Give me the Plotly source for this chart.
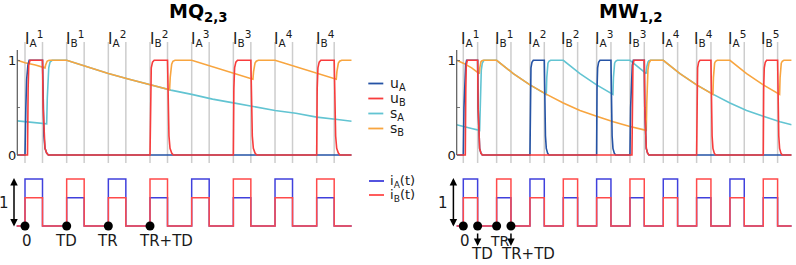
import plotly.graph_objects as go

W, H = 796, 265
FONT = "DejaVu Sans"

# ---------------- data ----------------
# MQ(2,3) panel (time unit = pulse spacing)
MQ_PULSE_START = [0, 1, 2, 3, 4, 5, 6, 7]
MQ_PULSE_WIDTH = 0.42
MQ_TOP_LABELS = ["I<sub>A</sub><sup>1</sup>", "I<sub>B</sub><sup>1</sup>", "I<sub>A</sub><sup>2</sup>",
                 "I<sub>B</sub><sup>2</sup>", "I<sub>A</sub><sup>3</sup>", "I<sub>B</sub><sup>3</sup>",
                 "I<sub>A</sub><sup>4</sup>", "I<sub>B</sub><sup>4</sup>"]
MQ_IA_LEVEL = [1, 0.6, 1, 0.6, 1, 0.6, 1, 0.6]
MQ_IB_LEVEL = [0.6, 1, 0.6, 1, 0.6, 1, 0.6, 1]
MQ_MARK_T = [0, 1, 2, 3]
MQ_MARK_LABELS = ["0", "TD", "TR", "TR+TD"]

MQ_uA_t = [-0.185, 0.0, 0.02, 0.04, 0.07, 0.1, 0.42, 0.435, 0.455, 0.48, 0.52, 0.56, 7.84]
MQ_uA_v = [0, 0, 0.5, 0.8, 0.95, 1, 1, 0.5, 0.2, 0.07, 0.02, 0, 0]

MQ_uB_t = [-0.185, 0.06, 0.075, 0.09, 0.12, 0.42, 0.435, 0.455, 0.48, 0.52, 0.56,
           3.0, 3.012, 3.03, 3.06, 3.1, 3.42, 3.435, 3.455, 3.48, 3.52, 3.56,
           5.0, 5.012, 5.03, 5.06, 5.1, 5.42, 5.435, 5.455, 5.48, 5.52, 5.56,
           7.0, 7.012, 7.03, 7.06, 7.1, 7.42, 7.435, 7.455, 7.48, 7.52, 7.56, 7.84]
MQ_uB_v = [0, 0, 0.7, 0.95, 1, 1, 0.5, 0.2, 0.07, 0.02, 0,
           0, 0.7, 0.92, 0.98, 1, 1, 0.5, 0.2, 0.07, 0.02, 0,
           0, 0.7, 0.92, 0.98, 1, 1, 0.5, 0.2, 0.07, 0.02, 0,
           0, 0.7, 0.92, 0.98, 1, 1, 0.5, 0.2, 0.07, 0.02, 0, 0]

MQ_sA_t = [-0.185, 0.52, 0.535, 0.55, 0.57, 0.6, 0.65, 1.0, 1.5, 2.0, 2.5, 3.0, 3.5,
           4.0, 4.5, 5.0, 5.5, 6.0, 6.5, 7.0, 7.5, 7.84]
MQ_sA_v = [0.36, 0.33, 0.6, 0.8, 0.92, 0.98, 1.0, 1.0, 0.93, 0.86, 0.80, 0.74, 0.685,
           0.64, 0.59, 0.55, 0.51, 0.47, 0.44, 0.40, 0.375, 0.356]

MQ_sB_t = [-0.185, 0.0, 0.25, 0.48, 0.495, 0.51, 0.53, 0.56, 0.6,
           1.0, 1.5, 2.0, 2.5, 3.0, 3.47, 3.485, 3.5, 3.52, 3.55, 3.6,
           4.0, 4.5, 5.0, 5.47, 5.485, 5.5, 5.52, 5.55, 5.6,
           6.0, 6.5, 7.0, 7.47, 7.485, 7.5, 7.52, 7.55, 7.6, 7.84]
MQ_sB_v = [1.0, 0.975, 0.95, 0.92, 0.95, 0.975, 0.99, 0.997, 1.0,
           1.0, 0.93, 0.86, 0.80, 0.74, 0.69, 0.82, 0.91, 0.96, 0.99, 1.0,
           1.0, 0.93, 0.86, 0.80, 0.88, 0.94, 0.97, 0.99, 1.0,
           1.0, 0.93, 0.86, 0.80, 0.88, 0.94, 0.97, 0.99, 1.0, 1.0]

# MW(1,2) panel
MW_PULSE_START = [0, 1, 2, 3, 4, 5, 6, 7, 8, 9]
MW_PULSE_WIDTH = 0.43
MW_TOP_LABELS = ["I<sub>A</sub><sup>1</sup>", "I<sub>B</sub><sup>1</sup>", "I<sub>A</sub><sup>2</sup>",
                 "I<sub>B</sub><sup>2</sup>", "I<sub>A</sub><sup>3</sup>", "I<sub>B</sub><sup>3</sup>",
                 "I<sub>A</sub><sup>4</sup>", "I<sub>B</sub><sup>4</sup>", "I<sub>A</sub><sup>5</sup>",
                 "I<sub>B</sub><sup>5</sup>"]
MW_IA_LEVEL = [1, 0.6, 1, 0.6, 1, 0.6, 1, 0.6, 1, 0.6]
MW_IB_LEVEL = [0.6, 1, 0.6, 1, 0.6, 1, 0.6, 1, 0.6, 1]
MW_MARK_T = [0, 0.43, 1, 1.43]
MW_MARK_LABELS = ["0", "TD", "TR", "TR+TD"]

MW_uA_t = [-0.2, 0.0, 0.02, 0.04, 0.07, 0.1, 0.43, 0.445, 0.465, 0.49, 0.53, 0.57,
           2.0, 2.012, 2.03, 2.06, 2.1, 2.43, 2.445, 2.465, 2.49, 2.53, 2.57,
           4.0, 4.012, 4.03, 4.06, 4.1, 4.43, 4.445, 4.465, 4.49, 4.53, 4.57,
           5.0, 5.02, 5.04, 5.07, 5.1, 5.43, 5.445, 5.465, 5.49, 5.53, 5.57, 9.85]
MW_uA_v = [0, 0, 0.5, 0.8, 0.95, 1, 1, 0.5, 0.2, 0.07, 0.02, 0,
           0, 0.7, 0.92, 0.98, 1, 1, 0.5, 0.2, 0.07, 0.02, 0,
           0, 0.7, 0.92, 0.98, 1, 1, 0.5, 0.2, 0.07, 0.02, 0,
           0, 0.5, 0.8, 0.95, 1, 1, 0.5, 0.2, 0.07, 0.02, 0, 0]

MW_uB_t = [-0.2, 0.06, 0.075, 0.09, 0.12, 0.43, 0.445, 0.465, 0.49, 0.53, 0.57,
           5.06, 5.075, 5.09, 5.12, 5.43, 5.445, 5.465, 5.49, 5.53, 5.57,
           7.0, 7.012, 7.03, 7.06, 7.1, 7.43, 7.445, 7.465, 7.49, 7.53, 7.57,
           9.0, 9.012, 9.03, 9.06, 9.1, 9.43, 9.445, 9.465, 9.49, 9.53, 9.57, 9.85]
MW_uB_v = [0, 0, 0.7, 0.95, 1, 1, 0.5, 0.2, 0.07, 0.02, 0,
           0, 0.7, 0.95, 1, 1, 0.5, 0.2, 0.07, 0.02, 0,
           0, 0.7, 0.92, 0.98, 1, 1, 0.5, 0.2, 0.07, 0.02, 0,
           0, 0.7, 0.92, 0.98, 1, 1, 0.5, 0.2, 0.07, 0.02, 0, 0]

MW_sA_t = [-0.2, 0.0, 0.25, 0.49, 0.505, 0.52, 0.54, 0.57, 0.62,
           1.0, 1.5, 2.0, 2.49, 2.505, 2.52, 2.54, 2.57, 2.62,
           3.0, 3.5, 4.0, 4.49, 4.505, 4.52, 4.54, 4.57, 4.62,
           5.0, 5.49, 5.505, 5.52, 5.54, 5.57, 5.62,
           6.0, 6.5, 7.0, 7.5, 8.0, 8.5, 9.0, 9.5, 9.85]
MW_sA_v = [0.32, 0.30, 0.28, 0.26, 0.55, 0.78, 0.90, 0.97, 1.0,
           1.0, 0.86, 0.74, 0.64, 0.82, 0.92, 0.97, 0.99, 1.0,
           1.0, 0.86, 0.74, 0.64, 0.82, 0.92, 0.97, 0.99, 1.0,
           1.0, 0.86, 0.93, 0.96, 0.98, 0.995, 1.0,
           1.0, 0.86, 0.74, 0.64, 0.55, 0.47, 0.41, 0.35, 0.32]

MW_sB_t = [-0.2, 0.0, 0.25, 0.48, 0.495, 0.51, 0.53, 0.56, 0.6,
           1.0, 1.5, 2.0, 2.5, 3.0, 3.5, 4.0, 4.5, 5.0, 5.49, 5.505, 5.52, 5.54, 5.57, 5.62,
           6.0, 6.5, 7.0, 7.49, 7.505, 7.52, 7.54, 7.57, 7.62,
           8.0, 8.5, 9.0, 9.49, 9.505, 9.52, 9.54, 9.57, 9.62, 9.85]
MW_sB_v = [1.0, 0.97, 0.92, 0.86, 0.92, 0.96, 0.985, 0.995, 1.0,
           1.0, 0.86, 0.74, 0.64, 0.55, 0.47, 0.41, 0.35, 0.30, 0.26, 0.55, 0.78, 0.90, 0.97, 1.0,
           1.0, 0.86, 0.74, 0.64, 0.82, 0.92, 0.97, 0.99, 1.0,
           1.0, 0.86, 0.74, 0.64, 0.82, 0.92, 0.97, 0.99, 1.0, 1.0]

SERIES_NAMES = ["u<sub>A</sub>", "u<sub>B</sub>", "s<sub>A</sub>", "s<sub>B</sub>"]
PULSE_NAMES = ["i<sub>A</sub>(t)", "i<sub>B</sub>(t)"]
PANEL_TITLES = ["<b>MQ<sub>2,3</sub></b>", "<b>MW<sub>1,2</sub></b>"]

# ---------------- styles ----------------
C_UA, C_UB, C_SA, C_SB = "#2553a5", "#f83c3c", "#62c4d2", "#f8a53f"
C_IA, C_IB = "#4040dc", "#ff4a4a"
GRID = "#cdcdcd"
TXT = "#1a1a1a"


def px(x):
    return x / W


def py(y):
    return 1 - y / H


def step_xy(starts, width, levels, t0, t1):
    xs, ys = [t0], [0]
    for s, lv in zip(starts, levels):
        xs += [s, s, s + width, s + width]
        ys += [0, lv, lv, 0]
    xs.append(t1)
    ys.append(0)
    return xs, ys


fig = go.Figure()

panels = [
    dict(x0=25.0, unit=41.67, left=17.3, right=351.7, lleft=16.0, lright=352.5,
         starts=MQ_PULSE_START, width=MQ_PULSE_WIDTH, labels=MQ_TOP_LABELS,
         ia=MQ_IA_LEVEL, ib=MQ_IB_LEVEL, mark_t=MQ_MARK_T,
         ua=(MQ_uA_t, MQ_uA_v), ub=(MQ_uB_t, MQ_uB_v), sa=(MQ_sA_t, MQ_sA_v), sb=(MQ_sB_t, MQ_sB_v),
         title=PANEL_TITLES[0], title_x=198, tstart=-0.2, tend=7.84, up="", lo="3"),
    dict(x0=463.3, unit=33.33, left=456.7, right=791.7, lleft=455.5, lright=792.5,
         starts=MW_PULSE_START, width=MW_PULSE_WIDTH, labels=MW_TOP_LABELS,
         ia=MW_IA_LEVEL, ib=MW_IB_LEVEL, mark_t=MW_MARK_T,
         ua=(MW_uA_t, MW_uA_v), ub=(MW_uB_t, MW_uB_v), sa=(MW_sA_t, MW_sA_v), sb=(MW_sB_t, MW_sB_v),
         title=PANEL_TITLES[1], title_x=630, tstart=-0.2, tend=9.85, up="2", lo="4"),
]

Y0_UP, Y1_UP, UNIT_UP = 155.0, 60.3, 94.7
TOP_UP, BOT_UP = 42.0, 163.0
Y0_LO, Y1_LO = 226.0, 179.0
UNIT_LO = Y0_LO - Y1_LO
TOP_LO, BOT_LO = 170.0, 240.0

layout = dict(width=W, height=H, margin=dict(l=0, r=0, t=0, b=0),
              paper_bgcolor="white", plot_bgcolor="white", showlegend=False,
              font=dict(family=FONT, color=TXT))
shapes, annots = [], []

for p in panels:
    up, lo = p["up"], p["lo"]
    xu, yu, xl, yl = "x" + up, "y" + up, "x" + lo, "y" + lo

    # upper axes
    layout["xaxis" + up] = dict(domain=[px(p["left"]), px(p["right"])],
                                range=[(p["left"] - p["x0"]) / p["unit"], (p["right"] - p["x0"]) / p["unit"]],
                                visible=False, anchor=yu)
    layout["yaxis" + up] = dict(domain=[py(BOT_UP), py(TOP_UP)],
                                range=[-(BOT_UP - Y0_UP) / UNIT_UP, 1 + (Y1_UP - TOP_UP) / UNIT_UP],
                                anchor=xu, showgrid=False, zeroline=False, showline=False,
                                tickvals=[0, 0.5, 1], ticktext=["0", "", "1"], ticks="inside",
                                ticklen=3, tickcolor="#777", tickfont=dict(size=13, color=TXT))
    # lower axes
    layout["xaxis" + lo] = dict(domain=[px(p["lleft"]), px(p["lright"])],
                                range=[(p["lleft"] - p["x0"]) / p["unit"], (p["lright"] - p["x0"]) / p["unit"]],
                                visible=False, anchor=yl)
    layout["yaxis" + lo] = dict(domain=[py(BOT_LO), py(TOP_LO)],
                                range=[-(BOT_LO - Y0_LO) / UNIT_LO, 1 + (Y1_LO - TOP_LO) / UNIT_LO],
                                visible=False, anchor=xl)

    # grey pulse boundary lines
    for s in p["starts"]:
        for t in (s, s + p["width"]):
            shapes.append(dict(type="line", xref=xu, yref="paper", x0=t, x1=t,
                               y0=py(BOT_UP), y1=py(TOP_UP), layer="below",
                               line=dict(color=GRID, width=1.5)))
    # y-axis line
    shapes.append(dict(type="line", xref=xu + " domain", yref=yu, x0=0, x1=0, y0=0, y1=1.11,
                       line=dict(color="#5a5a5a", width=1.2)))

    # curves
    for (tv, col, nm) in [(p["sa"], C_SA, SERIES_NAMES[2]), (p["sb"], C_SB, SERIES_NAMES[3]),
                          (p["ua"], C_UA, SERIES_NAMES[0]), (p["ub"], C_UB, SERIES_NAMES[1])]:
        fig.add_trace(go.Scatter(x=tv[0], y=tv[1], mode="lines", name=nm, xaxis=xu, yaxis=yu,
                                 line=dict(color=col, width=1.6), hoverinfo="skip"))

    # lower pulse trains
    xa, ya = step_xy(p["starts"], p["width"], p["ia"], p["tstart"], p["tend"])
    xb, yb = step_xy(p["starts"], p["width"], p["ib"], p["tstart"], p["tend"])
    fig.add_trace(go.Scatter(x=xa, y=ya, mode="lines", name=PULSE_NAMES[0], xaxis=xl, yaxis=yl,
                             line=dict(color=C_IA, width=1.5), hoverinfo="skip"))
    fig.add_trace(go.Scatter(x=xb, y=yb, mode="lines", name=PULSE_NAMES[1], xaxis=xl, yaxis=yl,
                             line=dict(color=C_IB, width=1.5), hoverinfo="skip"))
    fig.add_trace(go.Scatter(x=p["mark_t"], y=[0] * len(p["mark_t"]), mode="markers", xaxis=xl, yaxis=yl,
                             marker=dict(color="black", size=9), cliponaxis=False, hoverinfo="skip"))

    # top labels
    for s, lab in zip(p["starts"], p["labels"]):
        annots.append(dict(x=s + p["width"] / 2, xref=xu, y=py(39), yref="paper", text=lab,
                           showarrow=False, xanchor="center", yanchor="middle",
                           font=dict(size=15, color=TXT)))
    # title
    annots.append(dict(x=px(p["title_x"]), xref="paper", y=py(13), yref="paper", text=p["title"],
                       showarrow=False, xanchor="center", yanchor="middle",
                       font=dict(size=19, color="black")))

    # double arrow "1"
    arrow_x = p["left"] - 3.3
    annots.append(dict(x=px(arrow_x), xref="paper", y=py(178), yref="paper", ax=0, ay=50,
                       axref="pixel", ayref="pixel", text="", showarrow=True, arrowhead=2,
                       arrowside="end+start", arrowsize=1, arrowwidth=1.5, arrowcolor="black"))
    annots.append(dict(x=px(arrow_x - 10), xref="paper", y=py(203), yref="paper", text="1",
                       showarrow=False, xanchor="center", yanchor="middle", font=dict(size=15, color=TXT)))

# mark labels (left panel)
mq_pos = [(0, 2, 241, "center"), (1, -1, 241, "center"), (2, -1, 241, "center"), (3, -13, 241, "left")]
for (k, sh, yy, anc) in mq_pos:
    annots.append(dict(x=MQ_MARK_T[k], xref="x3", y=py(yy), yref="paper", text=MQ_MARK_LABELS[k],
                       xshift=sh, showarrow=False, xanchor=anc, yanchor="middle",
                       font=dict(size=15, color=TXT)))
# mark labels (right panel)
mw_pos = [(0, 2, 241, 15), (1, 4, 254, 15), (2, 3, 241, 14), (3, 17, 254, 15)]
for (k, sh, yy, fs) in mw_pos:
    annots.append(dict(x=MW_MARK_T[k], xref="x4", y=py(yy), yref="paper", text=MW_MARK_LABELS[k],
                       xshift=sh, showarrow=False, xanchor="center", yanchor="middle",
                       font=dict(size=fs, color=TXT)))
for k in (1, 3):
    annots.append(dict(x=MW_MARK_T[k], xref="x4", y=py(246), yref="paper", ax=0, ay=-14,
                       axref="pixel", ayref="pixel", text="", showarrow=True, arrowhead=2,
                       arrowsize=1, arrowwidth=1.5, arrowcolor="black"))

# legends (manual)
leg_rows = [83.5, 98.5, 113.5, 128.5]
for nm, col, yy in zip(SERIES_NAMES, [C_UA, C_UB, C_SA, C_SB], leg_rows):
    shapes.append(dict(type="line", xref="paper", yref="paper", x0=px(368.3), x1=px(383.3),
                       y0=py(yy), y1=py(yy), line=dict(color=col, width=1.8)))
    annots.append(dict(x=px(387.5), xref="paper", y=py(yy), yref="paper", text=nm, showarrow=False,
                       xanchor="left", yanchor="middle", font=dict(size=14, color=TXT)))
for nm, col, yy in zip(PULSE_NAMES, [C_IA, C_IB], [181, 195]):
    shapes.append(dict(type="line", xref="paper", yref="paper", x0=px(369), x1=px(384),
                       y0=py(yy), y1=py(yy), line=dict(color=col, width=1.8)))
    annots.append(dict(x=px(387.5), xref="paper", y=py(yy), yref="paper", text=nm, showarrow=False,
                       xanchor="left", yanchor="middle", font=dict(size=13, color=TXT)))

layout["shapes"] = shapes
layout["annotations"] = annots
fig.update_layout(**layout)
fig.write_html("out.html", config={"displayModeBar": False},
               post_script="document.body.style.margin='0';document.body.style.overflow='hidden';")
